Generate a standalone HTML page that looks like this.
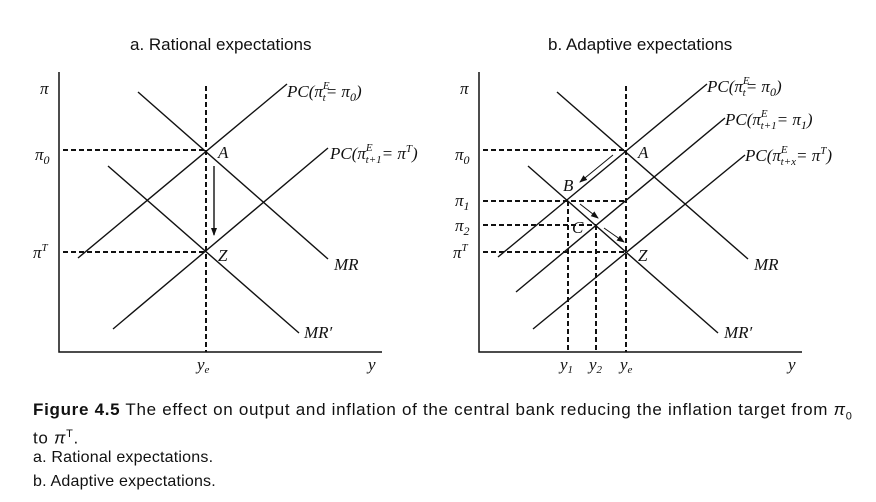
<!DOCTYPE html>
<html><head><style>
body{margin:0;background:#fff;width:876px;height:502px;overflow:hidden;font-family:"Liberation Sans",sans-serif;}
svg{position:absolute;left:0;top:0}
.cap{position:absolute;left:33px;font-size:17px;letter-spacing:0.7px;color:#111;line-height:24px;white-space:nowrap}
.cap.s{font-size:16px;letter-spacing:0.2px}
</style></head><body>
<svg width="876" height="502" xmlns="http://www.w3.org/2000/svg" font-family="Liberation Sans, sans-serif">
<defs><marker id="ar" markerWidth="8" markerHeight="8" refX="7" refY="4" orient="auto" markerUnits="userSpaceOnUse"><path d="M0,1 L8,4 L0,7z" fill="#111"/></marker></defs>
<g stroke="#111" fill="none">
<path d="M59,72 V352 H382" stroke-width="1.5"/>
<g stroke-dasharray="5,3" stroke-width="2">
<path d="M206,86 V352"/><path d="M63,150 H206"/><path d="M63,252 H206"/>
</g>
<g stroke-width="1.4">
<path d="M78,258 L287,84"/><path d="M138,92 L328,259"/><path d="M113,329 L328,148"/><path d="M108,166 L299,333"/>
</g>
<path d="M214,166 V235" stroke-width="1.4" marker-end="url(#ar)"/>
<path d="M479,72 V352 H802" stroke-width="1.5"/>
<g stroke-dasharray="5,3" stroke-width="2">
<path d="M626,86 V352"/><path d="M483,150 H626"/><path d="M483,201 H626"/><path d="M483,225 H596"/><path d="M483,252 H626"/>
<path d="M568,201 V352"/><path d="M596,225 V352"/>
</g>
<g stroke-width="1.4">
<path d="M498,257 L707,84"/><path d="M516,292 L725,118"/><path d="M533,329 L745,155"/><path d="M557,92 L748,259"/><path d="M528,166 L718,333"/>
</g>
<g stroke-width="1">
<path d="M613,155 L580,182" marker-end="url(#ar)"/>
<path d="M580,204 L598,218" marker-end="url(#ar)"/>
<path d="M604,228 L624,242" marker-end="url(#ar)"/>
</g>
</g>
<g font-size="17" fill="#111">
<text x="130" y="50">a. Rational expectations</text>
<text x="548" y="50">b. Adaptive expectations</text>
</g>
<g font-size="17" fill="#111" font-style="italic" font-family="Liberation Serif, serif">
<text x="40" y="94">π</text><text x="35" y="160">π<tspan font-size="12" dy="4">0</tspan></text><text x="33" y="258">π<tspan font-size="11" dy="-7">T</tspan></text>
<text x="218" y="158">A</text><text x="218" y="261">Z</text>
<text x="334" y="270">MR</text><text x="304" y="338">MR′</text>
<text x="197" y="370">y<tspan font-size="11" dy="3">e</tspan></text><text x="368" y="370">y</text>
<text x="287" y="97">PC(π<tspan font-size="11" dy="-8">E</tspan><tspan font-size="11" dx="-7" dy="12">t</tspan><tspan dy="-4">= π</tspan><tspan font-size="12" dy="4">0</tspan><tspan dy="-4">)</tspan></text>
<text x="330" y="159">PC(π<tspan font-size="11" dy="-8">E</tspan><tspan font-size="11" dx="-7" dy="12">t+1</tspan><tspan dy="-4">= π</tspan><tspan font-size="11" dy="-7">T</tspan><tspan dy="7">)</tspan></text>
<text x="460" y="94">π</text><text x="455" y="160">π<tspan font-size="12" dy="4">0</tspan></text>
<text x="455" y="206">π<tspan font-size="12" dy="4">1</tspan></text><text x="455" y="231">π<tspan font-size="12" dy="4">2</tspan></text>
<text x="453" y="258">π<tspan font-size="11" dy="-7">T</tspan></text>
<text x="638" y="158">A</text><text x="638" y="261">Z</text><text x="563" y="191">B</text><text x="572" y="233">C</text>
<text x="754" y="270">MR</text><text x="724" y="338">MR′</text>
<text x="560" y="370">y<tspan font-size="11" dy="3">1</tspan></text><text x="589" y="370">y<tspan font-size="11" dy="3">2</tspan></text>
<text x="620" y="370">y<tspan font-size="11" dy="3">e</tspan></text><text x="788" y="370">y</text>
<text x="707" y="92">PC(π<tspan font-size="11" dy="-8">E</tspan><tspan font-size="11" dx="-7" dy="12">t</tspan><tspan dy="-4">= π</tspan><tspan font-size="12" dy="4">0</tspan><tspan dy="-4">)</tspan></text>
<text x="725" y="125">PC(π<tspan font-size="11" dy="-8">E</tspan><tspan font-size="11" dx="-7" dy="12">t+1</tspan><tspan dy="-4">= π</tspan><tspan font-size="12" dy="4">1</tspan><tspan dy="-4">)</tspan></text>
<text x="745" y="161">PC(π<tspan font-size="11" dy="-8">E</tspan><tspan font-size="11" dx="-7" dy="12">t+x</tspan><tspan dy="-4">= π</tspan><tspan font-size="11" dy="-7">T</tspan><tspan dy="7">)</tspan></text>
</g>
</svg>
<div class="cap" style="top:398px"><b>Figure 4.5</b> The effect on output and inflation of the central bank reducing the inflation target from <i>π</i><sub style="font-size:11px">0</sub></div>
<div class="cap" style="top:422px">to <i>π</i><sup style="font-size:11px">T</sup>.</div>
<div class="cap s" style="top:446px">a. Rational expectations.</div>
<div class="cap s" style="top:470px">b. Adaptive expectations.</div>
</body></html>
